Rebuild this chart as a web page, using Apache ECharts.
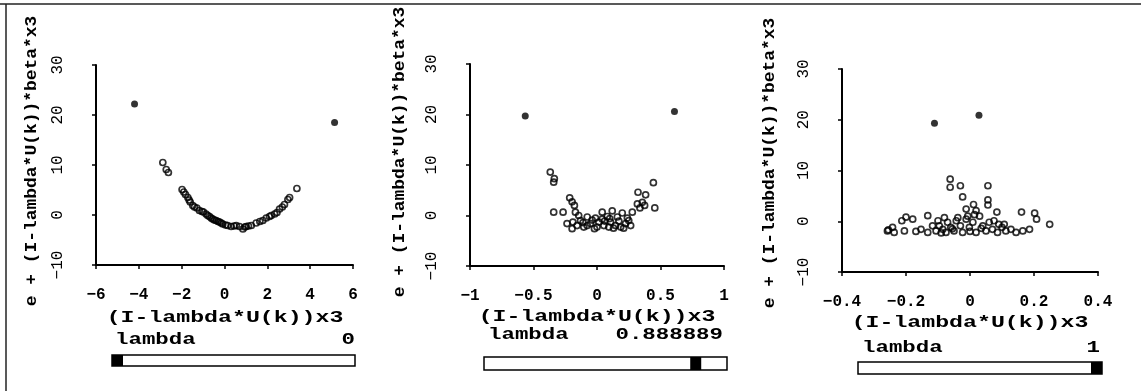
<!DOCTYPE html>
<html><head><meta charset="utf-8">
<script src="https://cdn.jsdelivr.net/npm/echarts@6/dist/echarts.min.js"></script>
<style>html,body{margin:0;padding:0;background:#fff}#c{width:1141px;height:391px}</style>
</head><body><div id="c"></div>
<script>
// ---------- data ----------
const xTitle = '(I-lambda*U(k))x3';
const yTitle = 'e + (I-lambda*U(k))*beta*x3';
const sliderLabel = 'lambda';
const lambdaValues = [0, 0.888889, 1];
const lambdaTexts = ['0', '0.888889', '1'];
const yTickLabels = ['\u221210', '0', '10', '20', '30'];
const xTickLabels1 = ['\u22126', '\u22124', '\u22122', '0', '2', '4', '6'];
const xTickLabels2 = ['\u22121', '\u22120.5', '0', '0.5', '1'];
const xTickLabels3 = ['\u22120.4', '\u22120.2', '0', '0.2', '0.4'];

const filled1 = [[-4.2, 22.2], [5.14, 18.5]];
const open1 = [
  [-2.88,10.5],[-2.72,9.1],[-2.62,8.5],[-1.98,5.1],[-1.9,4.6],[-1.82,4.1],[-1.71,3.5],[-1.65,3.0],
  [-1.6,2.6],[-1.48,1.9],[-1.4,1.6],[-1.29,1.4],[-1.17,0.9],[-1.05,0.7],[-0.98,0.6],[-0.86,0.2],
  [-0.78,-0.1],[-0.7,-0.3],[-0.62,-0.6],[-0.55,-0.8],[-0.47,-1.0],[-0.39,-1.1],[-0.3,-1.3],[-0.23,-1.4],
  [-0.15,-1.6],[-0.08,-1.8],[0.05,-2.0],[0.15,-2.1],[0.31,-2.3],[0.45,-2.2],[0.55,-2.1],[0.7,-2.3],
  [0.86,-2.8],[0.95,-2.4],[1.01,-2.3],[1.12,-2.2],[1.25,-2.1],[1.48,-1.6],[1.65,-1.3],[1.79,-1.1],
  [1.95,-0.6],[2.1,-0.3],[2.18,-0.1],[2.34,0.2],[2.45,0.5],[2.57,1.2],[2.7,1.6],[2.8,2.1],
  [2.96,3.1],[3.04,3.5],[3.38,5.3]
];

const filled2 = [[-0.565, 19.7], [0.61, 20.6]];
const open2 = [
  [-0.368,8.6],[-0.336,7.3],[-0.341,6.6],[0.444,6.5],[0.323,4.6],[0.383,4.1],[-0.215,3.5],[-0.196,2.7],
  [-0.178,2.0],[0.318,2.3],[0.357,2.6],[0.375,2.0],[0.338,1.5],[0.455,1.5],[-0.341,0.65],[-0.267,0.65],
  [-0.17,0.65],[0.041,0.65],[0.12,0.9],[0.199,0.5],[0.278,0.65],[-0.144,0.0],[-0.077,-0.3],[-0.012,-0.5],
  [0.081,-0.2],[0.16,-0.3],[0.239,-0.5],[-0.236,-1.6],[-0.196,-2.6],[-0.157,-2.0],[-0.104,-2.3],[-0.051,-1.6],
  [0.0,-2.3],[0.014,-1.3],[0.054,-2.0],[0.093,-2.3],[0.107,-1.3],[0.146,-2.0],[0.172,-1.1],[0.186,-2.3],
  [0.225,-1.6],[0.265,-2.0],[-0.13,-1.0],[-0.038,-0.9],[0.041,-0.7],[-0.19,-1.3],[-0.077,-2.0],[-0.02,-2.6],
  [0.13,-2.5],[0.21,-2.5],[0.06,-1.1],[-0.11,-1.4],[0.25,-1.0],[0.1,-0.6]
];

const filled3 = [[-0.111, 19.3], [0.028, 20.9]];
const open3 = [
  [-0.062,8.3],[-0.062,6.7],[-0.03,7.0],[0.056,7.0],[-0.023,4.8],[0.056,4.2],[0.056,3.2],[0.011,3.3],
  [-0.012,2.4],[0.019,2.1],[0.084,1.8],[0.161,1.8],[0.202,1.6],[0.208,0.4],[0.249,-0.6],[-0.132,1.1],
  [-0.2,0.8],[-0.179,0.4],[-0.213,0.1],[-0.242,-1.2],[-0.258,-1.9],[-0.237,-2.2],[-0.205,-1.9],[-0.169,-2.0],
  [-0.153,-1.6],[-0.132,-2.2],[-0.106,-1.9],[-0.096,-0.9],[-0.085,-1.6],[-0.075,-2.2],[-0.07,-0.2],[-0.06,-1.2],
  [-0.05,-1.9],[-0.043,0.1],[-0.03,-0.9],[-0.023,-2.2],[-0.012,0.4],[-0.002,-1.2],[0.009,-0.2],[0.019,-2.2],
  [0.03,1.0],[0.04,-0.9],[0.05,-1.9],[0.06,-0.2],[0.07,-1.6],[0.086,-2.2],[0.1,-1.2],[0.112,-1.9],
  [0.128,-1.6],[0.144,-2.2],[0.165,-1.9],[0.186,-1.6],[0.107,-0.6],[0.014,1.3],[-0.007,1.0],[-0.038,0.7],
  [-0.08,0.7],[-0.1,0.1],[-0.117,-0.9],[0.075,0.1],[0.09,-0.6],[-0.255,-1.7],[-0.09,-2.3],[0.0,-2.0],
  [0.035,-1.4],[-0.055,-1.5]
];

// ---------- layout ----------
const FONT = '"Liberation Mono", "DejaVu Sans Mono", monospace';
const panels = [
  { grid:{left:96, top:65, width:257, height:200}, x:[-6,6,2], xt:xTickLabels1, filled:filled1, open:open1,
    yT:[32,161], xT:[225,318], lab:[115,340], val:[355,340], sl:[112,355,355,366] },
  { grid:{left:470, top:64, width:254, height:202}, x:[-1,1,0.5], xt:xTickLabels2, filled:filled2, open:open2,
    yT:[400,152], xT:[597,317], lab:[488,335], val:[723,335], sl:[484,727,357,370] },
  { grid:{left:842, top:69, width:256, height:203}, x:[-0.4,0.4,0.2], xt:xTickLabels3, filled:filled3, open:open3,
    yT:[770,163], xT:[970,323], lab:[862,348], val:[1100,348], sl:[858,1102,362,374] }
];

const grids = [], xAxes = [], yAxes = [], series = [], graphics = [];
const axisLine = { show:true, onZero:false, lineStyle:{ color:'#000', width:2 } };
const axisTick = { show:true, length:4, lineStyle:{ color:'#000', width:1.5 } };

panels.forEach((p, i) => {
  grids.push(p.grid);
  const [xmin, xmax, xint] = p.x;
  xAxes.push({
    gridIndex:i, type:'value', min:xmin, max:xmax, interval:xint,
    axisLine, axisTick, splitLine:{show:false},
    axisLabel:{ margin:22, color:'#000', fontFamily:FONT, fontWeight:'bold', fontSize:16,
      formatter: v => p.xt[Math.round((v - xmin) / xint)] }
  });
  yAxes.push({
    gridIndex:i, type:'value', min:-10, max:30, interval:10,
    axisLine, axisTick, splitLine:{show:false},
    axisLabel:{ margin:30, rotate:90, color:'#000', fontFamily:FONT, fontSize:16,
      formatter: v => yTickLabels[Math.round((v + 10) / 10)] }
  });
  series.push({
    type:'scatter', xAxisIndex:i, yAxisIndex:i, data:p.open, symbol:'circle', symbolSize:6,
    itemStyle:{ color:'rgba(0,0,0,0)', borderColor:'#000', borderWidth:1.7 }, silent:true
  });
  series.push({
    type:'scatter', xAxisIndex:i, yAxisIndex:i, data:p.filled, symbol:'circle', symbolSize:7,
    itemStyle:{ color:'#000' }, silent:true
  });
  // titles
  graphics.push({ type:'text', x:p.yT[0], y:p.yT[1], rotation:Math.PI/2, scaleX:1.12,
    style:{ text:yTitle, x:0, y:0, textAlign:'center', textVerticalAlign:'middle', fill:'#000',
      font:'bold 16px ' + FONT } });
  graphics.push({ type:'text', x:p.xT[0], y:p.xT[1], scaleX:1.45,
    style:{ text:xTitle, x:0, y:0, textAlign:'center', textVerticalAlign:'middle', fill:'#000',
      font:'bold 16px ' + FONT } });
  graphics.push({ type:'text', x:p.lab[0], y:p.lab[1], scaleX:1.4,
    style:{ text:sliderLabel, x:0, y:0, textAlign:'left', textVerticalAlign:'middle', fill:'#000',
      font:'bold 16px ' + FONT } });
  graphics.push({ type:'text', x:p.val[0], y:p.val[1], scaleX:1.4,
    style:{ text:lambdaTexts[i], x:0, y:0, textAlign:'right', textVerticalAlign:'middle', fill:'#000',
      font:'bold 16px ' + FONT } });
  // slider
  const [sx0, sx1, sy0, sy1] = p.sl;
  graphics.push({ type:'rect', shape:{ x:sx0, y:sy0, width:sx1 - sx0, height:sy1 - sy0 },
    style:{ fill:'#fff', stroke:'#000', lineWidth:1.5 } });
  const hw = 11;
  const hx = sx0 + lambdaValues[i] * (sx1 - sx0 - hw);
  graphics.push({ type:'rect', shape:{ x:hx, y:sy0, width:hw, height:sy1 - sy0 },
    style:{ fill:'#000' } });
});
// outer frame
graphics.push({ type:'line', shape:{ x1:0, y1:4, x2:1141, y2:4 }, style:{ stroke:'#222', lineWidth:1.5 } });
graphics.push({ type:'line', shape:{ x1:6, y1:4, x2:6, y2:391 }, style:{ stroke:'#222', lineWidth:1.5 } });

const chart = echarts.init(document.getElementById('c'), null, { renderer:'canvas' });
chart.setOption({
  backgroundColor:'#fff', animation:false,
  grid:grids, xAxis:xAxes, yAxis:yAxes, series, graphic:graphics
});
</script></body></html>
